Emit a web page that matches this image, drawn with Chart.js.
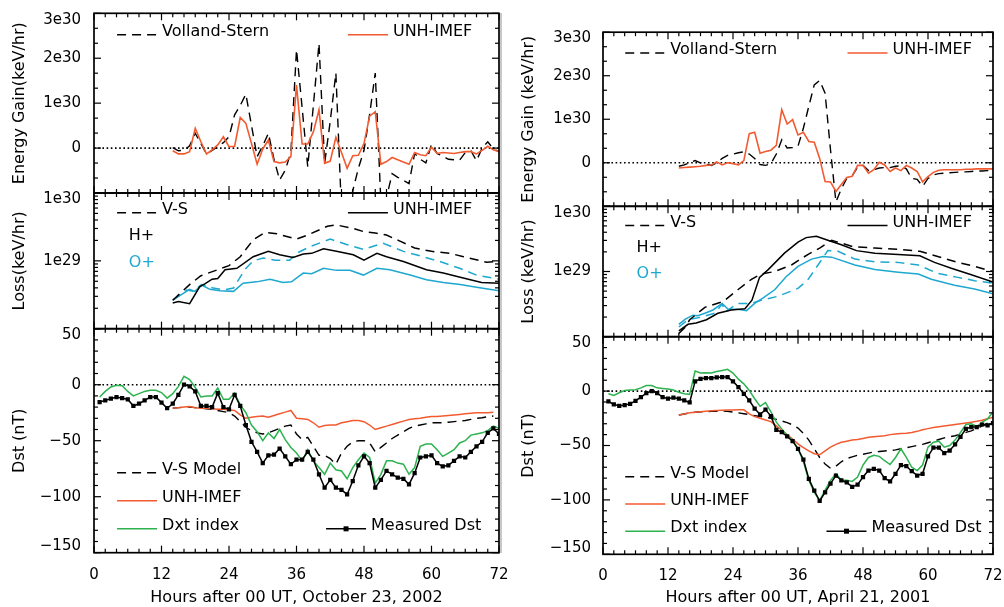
<!DOCTYPE html>
<html>
<head>
<meta charset="utf-8">
<script src="https://cdn.jsdelivr.net/npm/chart.js@4.4.1/dist/chart.umd.min.js"></script>
<style>
  html, body { margin: 0; padding: 0; background: #fff; width: 1004px; height: 607px; overflow: hidden; position: relative; }
  canvas { position: absolute; }
  #sep { position: absolute; left: 500px; top: 13px; width: 2px; height: 540px; background: #c8c8c8; }
</style>
</head>
<body>
<div id="sep"></div>
<script>
// ---------- Storm of 23-25 October 2002 (hours after 00 UT, Oct 23) ----------
// Energy gain, units of 1e30 keV/hr, hourly from hour 14
const octGainStart = 14;
const octGainVS = [0.01,-0.06,-0.05,0.05,0.33,0.10,-0.13,-0.05,0.03,0.12,
  0.25,0.74,0.95,1.20,0.50,-0.19,0.05,0.33,-0.25,-0.71,
  -0.49,-0.10,2.19,0.90,-0.42,0.95,2.33,-0.34,0.60,1.67,
  -1.40,-1.50,-0.95,-0.45,-0.05,0.75,1.67,-1.20,-1.10,-0.57,
  -0.65,-0.72,-0.79,-0.12,-0.25,-0.33,0.08,-0.12,-0.18,-0.25,
  -0.26,-0.27,-0.10,-0.06,-0.28,0.00,0.14,-0.02,-0.08];
const octGainUNH = [-0.06,-0.13,-0.13,-0.08,0.44,0.14,-0.13,-0.04,0.07,0.25,
  0.03,0.04,0.68,0.55,0.10,-0.36,-0.02,0.18,-0.30,-0.33,
  -0.31,-0.19,1.40,0.09,0.09,0.36,0.85,-0.34,-0.29,0.24,
  -0.10,-0.45,-0.17,-0.16,0.10,0.71,0.81,-0.36,-0.30,-0.21,
  -0.26,-0.31,-0.36,-0.10,-0.15,-0.17,0.02,-0.12,-0.10,-0.11,
  -0.12,-0.10,-0.08,-0.08,-0.13,-0.05,0.04,-0.04,-0.08];

// Ring current loss (keV/hr)
const octLossHvsT = [14,17,19,22,24,26,28.3,30.4,32.5,36,38,41.5,43,46,48,50,52,54.4,57,60,63.3,65.7,69.8,72];
const octLossHvs  = [2.63e28,4.47e28,6.03e28,7.41e28,8.51e28,1.15e29,2.04e29,2.63e29,2.51e29,2.09e29,2.40e29,3.24e29,
  3.39e29,3.02e29,2.69e29,2.57e29,2.40e29,1.95e29,1.55e29,1.38e29,1.29e29,1.15e29,9.55e28,9.77e28];
const octLossHunhT = [14,15,17,18.8,19.7,21,22,23.3,25.4,28.3,31,33,35.4,37.2,38.7,40.8,43.1,46.1,48,50.3,52,55,59.1,62.1,65.1,68.9,72];
const octLossHunh  = [2.40e28,2.51e28,2.34e28,4.17e28,4.57e28,5.37e28,5.50e28,7.41e28,7.76e28,1.15e29,1.38e29,1.23e29,
  1.12e29,1.26e29,1.29e29,1.51e29,1.38e29,1.23e29,1.02e29,1.29e29,1.15e29,9.77e28,7.41e28,6.61e28,5.75e28,4.79e28,4.68e28];
const octLossOvsT = [14,16.5,17.7,19.1,21.2,23,24.8,26.8,28.3,30.1,32.2,34.8,36,38.4,42,44.9,47.9,51.4,55,58.5,61.5,65,68,72];
const octLossOvs  = [2.63e28,3.72e28,3.55e28,4.47e28,3.98e28,3.72e28,3.98e28,7.41e28,1.00e29,1.10e29,1.02e29,1.02e29,
  1.29e29,1.62e29,2.09e29,1.74e29,1.48e29,1.82e29,1.38e29,1.15e29,9.77e28,7.76e28,6.17e28,5.37e28];
const octLossOunhT = [14,17,17.9,19.2,20.6,22.4,24.8,26.5,28.9,31.3,33.6,35.1,37.2,38.7,40.8,43.1,45.5,47.9,50.3,52.6,56.2,59.1,62.1,65.1,68,72];
const octLossOunh  = [2.63e28,3.80e28,3.55e28,4.37e28,3.80e28,3.63e28,3.55e28,4.68e28,4.90e28,5.37e28,4.79e28,4.90e28,
  6.61e28,6.46e28,7.76e28,7.24e28,7.24e28,6.17e28,7.76e28,7.41e28,6.17e28,5.25e28,4.79e28,4.47e28,4.07e28,3.63e28];

// Dst (nT): measured and Dxt hourly from hour 1, models hourly from hour 14
const octDstStart = 1;
const octDstMeasured = [-15.5,-14,-12.5,-11,-12,-13,-19,-17,-14,-11,
  -11,-16,-21,-17,-9,0,-1.5,-6,-19,-19,
  -20,-7.5,-20,-22,-9,-19,-36,-51,-60,-70,
  -63,-62.5,-57,-64,-71,-67,-67,-60,-67,-80,
  -92,-85,-92,-94,-98,-86,-72,-64,-70,-92,
  -85,-77,-80,-83,-84,-89,-79,-65,-64,-63,
  -70,-73,-72,-68,-64,-65,-60,-55,-51,-43,
  -39,-44];
const octDxt = [-11,-6,-2,-0.5,-1,-6,-10,-8,-6,-5,
  -5,-7,-12,-8,-1.5,7.5,4.5,-2.5,-11,-10,
  -10,-3,-13,-13,-7.5,-18,-25,-36,-42,-50,
  -43,-48,-40,-49,-56,-61,-68,-58,-68,-74,
  -80,-70,-76,-77,-84,-74,-67,-61,-65,-88,
  -80,-68,-68,-70,-71,-80,-74,-55,-53,-53,
  -58,-64,-61,-58,-52,-50,-45,-44,-43,-41,
  -37,-39];
const octModelStart = 14;
const octDstUNH = [-21,-20.5,-20,-19.5,-20.5,-21,-21,-21.5,-22,-22,
  -22.5,-23,-27,-30,-29,-28.5,-28,-29,-27.5,-26,
  -24.5,-23,-30,-30.5,-31,-34,-38,-36.5,-36,-36,
  -34,-33,-32,-32,-33,-36,-40,-38.5,-37,-35.5,
  -34,-32.5,-31,-30.5,-30,-29,-28.5,-28.5,-28,-27.5,
  -27,-26.5,-26,-25.5,-25,-25,-25,-24.5];
const octDstVS = [-21,-20.5,-20,-20,-20.5,-21,-21.5,-22,-23,-24,
  -25,-28,-33,-38,-41,-43,-44,-43,-41,-39,
  -37,-36,-44,-49,-47,-55,-63,-63,-66,-71,
  -61,-55,-51,-50,-50,-52,-60,-56,-52,-48,
  -45,-42,-39,-37,-36,-35,-34,-34,-34,-33.5,
  -33,-32.5,-32,-31,-30,-29.5,-28.5,-28];

// ---------- Storm of 21-23 April 2001 (hours after 00 UT, Apr 21) ----------
const aprGainStart = 14;
const aprGainVS = [-0.08,-0.05,0.00,0.05,0.00,-0.03,-0.06,0.00,0.10,0.17,
  0.20,0.23,0.25,0.20,0.10,-0.04,-0.06,-0.02,0.20,0.53,
  0.34,0.35,0.38,0.80,1.30,1.79,1.89,1.60,0.30,-0.90,
  -0.60,-0.36,-0.30,-0.10,-0.06,-0.18,-0.16,-0.12,-0.11,-0.11,
  -0.08,-0.07,-0.14,-0.36,-0.38,-0.54,-0.36,-0.28,-0.25,-0.24,
  -0.23,-0.22,-0.21,-0.21,-0.20,-0.19,-0.19,-0.18,-0.18];
const aprGainUNH = [-0.12,-0.11,-0.10,-0.09,-0.08,-0.06,-0.05,0.02,-0.05,0.00,
  -0.02,-0.05,0.05,0.67,0.70,0.22,0.26,0.29,0.40,1.22,
  0.89,0.99,0.64,0.70,0.49,0.47,0.10,-0.43,-0.44,-0.66,
  -0.50,-0.34,-0.31,-0.06,-0.06,-0.24,-0.16,0.01,-0.05,-0.20,
  -0.12,-0.18,-0.06,-0.12,-0.20,-0.44,-0.32,-0.22,-0.17,-0.16,
  -0.16,-0.16,-0.16,-0.15,-0.15,-0.14,-0.14,-0.14,-0.14];

const aprLossHvsT = [14,15.2,16,18.8,22.2,24.9,27.4,29.2,31.7,34.8,37.8,40,42.2,46.2,50.2,54.5,58.5,61.8,65.5,68.6,72];
const aprLossHvs  = [1.12e28,1.41e28,1.82e28,2.82e28,3.47e28,5.25e28,7.59e28,9.12e28,1.00e29,1.26e29,1.82e29,2.29e29,
  3.02e29,2.40e29,2.29e29,2.19e29,2.04e29,1.70e29,1.38e29,1.20e29,1.00e29];
const aprLossHunhT = [14,15.7,17.2,19.1,21.2,23.7,26.2,27.5,28.9,30.5,33.5,36,37.5,39.4,41.5,44,46.8,50.2,54.5,58.5,61.2,64.3,68,72];
const aprLossHunh  = [1.23e28,1.55e28,1.62e28,1.82e28,2.29e28,2.57e28,2.69e28,3.63e28,8.13e28,1.07e29,1.91e29,2.82e29,
  3.31e29,3.47e29,3.02e29,2.57e29,2.09e29,1.91e29,1.82e29,1.74e29,1.38e29,1.12e29,8.91e28,6.92e28];
const aprLossOvsT = [14,15.7,18.2,20.6,22,22.6,24.9,27.4,29.2,32.3,36,37.8,39.7,41.5,43.4,46.5,50.2,54.5,58.2,61.8,65.5,68.6,72];
const aprLossOvs  = [1.41e28,1.82e28,2.00e28,2.29e28,3.16e28,2.40e28,3.24e28,3.24e28,3.63e28,4.17e28,5.50e28,7.41e28,
  1.26e29,2.09e29,2.04e29,1.55e29,1.41e29,1.38e29,1.26e29,9.33e28,8.13e28,7.24e28,6.61e28];
const aprLossOunhT = [14,15.2,16.6,17.5,18.8,20.3,22,23.1,24.9,26.5,28,29.5,31.7,33.8,36,38.5,40.6,42.2,46.5,50.2,54.5,58.2,60.6,64.9,68.6,72];
const aprLossOunh  = [1.55e28,1.86e28,2.14e28,2.09e28,2.29e28,2.57e28,3.24e28,2.63e28,2.63e28,2.51e28,3.24e28,3.89e28,
  5.25e28,8.32e28,1.20e29,1.55e29,1.70e29,1.66e29,1.26e29,1.07e29,9.77e28,9.12e28,7.59e28,6.17e28,5.37e28,4.57e28];

const aprDstStart = 1;
const aprDstMeasured = [-9.5,-12.3,-13.5,-12.9,-11.7,-9,-5.5,-1.8,0,-1.8,
  -5.5,-7,-6,-7,-8.6,-10.4,8.9,11.3,12,12,
  12.6,12.9,12.9,8.9,3.7,-2.5,-8.6,-16,-21.5,-17,
  -23,-35.6,-37.7,-41.7,-46,-53,-63,-80.7,-91.4,-101,
  -93,-85,-77.6,-82,-84,-88,-86,-79,-73,-71.5,
  -73,-80,-83,-76,-68,-69,-73.6,-77.6,-76,-60,
  -52,-52,-57,-54.6,-49,-42,-34.7,-33,-33,-30.7,
  -31.6,-29.4];
const aprDxt = [-2.5,-4,-1.5,0.6,1,1.2,3,5.2,5.2,3,
  2.5,2,1,-1,-2.5,-3,18.4,16.6,16.8,16.6,
  18,19,20,16.6,11,6.7,0.6,-7,-14,-10.5,
  -19,-28.5,-34.7,-40.8,-45,-53,-65,-82,-93,-100.6,
  -91,-82,-76,-81.6,-82,-83,-79,-68,-61,-59,
  -60,-64,-67.5,-61,-53,-61,-70,-73,-68,-51.5,
  -47,-46,-51.5,-50,-45,-38,-30.7,-30,-32.5,-28.5,
  -25.5,-19.3];
const aprModelStart = 14;
const aprDstUNH = [-22,-21,-20,-19.5,-19,-18.5,-18,-17.8,-17.6,-17.4,
  -17.3,-17.2,-17.2,-21,-23.5,-25,-26.5,-28,-32,-36,
  -40,-44,-48.5,-52,-55,-57.5,-58.5,-55,-51.5,-49,
  -47,-46,-45,-44.5,-43.5,-42.5,-42,-41.5,-41,-40,
  -39.5,-39,-38.7,-38,-37,-35.5,-34.5,-33.5,-32.8,-32,
  -31.3,-30.6,-30,-29.3,-28.6,-27.8,-26.8,-25.5,-24];
const aprDstVS = [-22,-21,-20,-19.5,-19,-18.8,-18.6,-18.5,-18.4,-18.6,
  -19.2,-20,-20.8,-21.6,-22.5,-23.3,-24,-25,-26,-27.5,
  -29,-31,-34,-39,-45,-53,-61,-67,-71,-69,
  -65,-62,-60.5,-59,-58,-57,-56,-55.5,-55,-54.6,
  -54,-53,-52,-51,-50,-49,-47.5,-46,-44.5,-43,
  -42,-41,-39.5,-38,-36.5,-34.5,-32,-29.5,-27];

// Axis texts
const xTitles = { oct: 'Hours after 00 UT, October 23, 2002', apr: 'Hours after 00 UT, April 21, 2001' };
const yTitles = {
  oct: ['Energy Gain(keV/hr)', 'Loss(keV/hr)', 'Dst (nT)'],
  apr: ['Energy Gain (keV/hr)', 'Loss (keV/hr)', 'Dst (nT)']
};
const GAIN_UNIT = 1e30;

// ---------- styles ----------
const ORANGE = '#f25a30';
const CYAN = '#1ea8d0';
const GREEN = '#2cb24f';
const BLACK = '#000000';
const DASH = [9, 6];
const FONT = '"DejaVu Sans", "Liberation Sans", sans-serif';
const TEXT_SIZE = 16;

Chart.defaults.font.family = FONT;
Chart.defaults.font.size = 15;
Chart.defaults.color = '#000';

const hourly = (start, vals, unit = 1) => vals.map((v, i) => ({ x: start + i, y: v * unit }));
const paired = (ts, vals) => ts.map((t, i) => ({ x: t, y: vals[i] }));
const zeroLine = () => ({ data: [{ x: 0, y: 0 }, { x: 72, y: 0 }], borderColor: BLACK, borderWidth: 1.6, borderDash: [1.6, 2.6], pointRadius: 0 });
const ln = (data, color, dashed, width = 1.5) => ({ data, borderColor: color, borderWidth: width, borderDash: dashed ? DASH : [], pointRadius: 0, fill: false });
const minus = s => s.replace('-', '\u2212');

// Labels at the frame edges sit inside the frame: pad them with an empty line
const edgeLabel = (text, atTop) => atTop ? ['', text] : [text, ''];

// Minor/major tick values drawn inside each frame
function yTickMarks(kind) {
  const out = [];
  if (kind === 'gain') {
    for (let k = -3; k <= 9; k++) out.push({ v: k * GAIN_UNIT / 3, major: k % 3 === 0 });
  } else if (kind === 'loss') {
    for (const e of [28, 29]) for (let m = 1; m <= 9; m++) out.push({ v: m * Math.pow(10, e), major: m === 1 });
    out.push({ v: 1e30, major: true });
  } else {
    for (let v = -150; v <= 50; v += 10) out.push({ v, major: v % 50 === 0 });
  }
  return out;
}

const decoConfig = {};

const panelDeco = {
  id: 'panelDeco',
  afterDraw(chart) {
    const cfg = decoConfig[chart.canvas.id];
    if (!cfg) return;
    const { ctx, chartArea: a } = chart;
    const xs = chart.scales.x, ys = chart.scales.y;
    const seg = (x1, y1, x2, y2) => { ctx.beginPath(); ctx.moveTo(x1, y1); ctx.lineTo(x2, y2); ctx.stroke(); };
    ctx.save();
    ctx.strokeStyle = BLACK;
    ctx.lineWidth = 1.2;
    ctx.setLineDash([]);
    for (let h = 0; h <= 72; h += 2) {
      const px = xs.getPixelForValue(h);
      const len = h % 12 === 0 ? 7 : 4;
      seg(px, a.top, px, a.top + len);
      seg(px, a.bottom, px, a.bottom - len);
    }
    for (const t of yTickMarks(cfg.kind)) {
      const py = ys.getPixelForValue(t.v);
      const len = t.major ? 7 : 4;
      seg(a.left, py, a.left + len, py);
      seg(a.right, py, a.right - len, py);
    }
    ctx.lineWidth = 1.7;
    ctx.strokeRect(a.left, a.top, a.right - a.left, a.bottom - a.top);

    // legend entries
    ctx.font = TEXT_SIZE + 'px ' + FONT;
    ctx.textBaseline = 'middle';
    ctx.textAlign = 'left';
    for (const it of cfg.legend) {
      const x0 = a.left + it.fx * (a.right - a.left);
      const y0 = a.top + it.fy * (a.bottom - a.top);
      if (it.sample) {
        const s = it.sample;
        ctx.save();
        ctx.strokeStyle = s.color;
        ctx.lineWidth = 1.5;
        ctx.setLineDash(s.dashed ? DASH : []);
        seg(x0, y0 + 3, x0 + 40, y0 + 3);
        if (s.marker) { ctx.fillStyle = s.color; ctx.fillRect(x0 + 17.5, y0 + 0.5, 5, 5); }
        ctx.restore();
        ctx.fillStyle = BLACK;
        ctx.fillText(it.text, x0 + 45, y0);
      } else {
        ctx.fillStyle = it.color || BLACK;
        ctx.fillText(it.text, x0, y0);
      }
    }
    ctx.restore();
  }
};
Chart.register(panelDeco);

// Column geometry (page pixels)
const COLS = {
  oct: { left: 0, width: 510, axisW: 94, padRight: 11, titlePad: 10.4, tickPad: 13,
         panels: [[13.3, 193], [193, 328.7], [328.7, 552.7]] },
  apr: { left: 500, width: 504, axisW: 103, padRight: 11, titlePad: 18.9, tickPad: 12,
         panels: [[32.2, 206.3], [206.3, 336.7], [336.7, 554.3]] }
};

// Drop near-duplicate ticks produced by floating-point decade steps
function dedupeTicks(scale) {
  scale.ticks = scale.ticks.filter((t, i, arr) => i === 0 || Math.abs(t.value - arr[i - 1].value) > Math.abs(t.value) * 1e-9);
}

function yScaleFor(kind) {
  const common = {
    grid: { display: false, drawTicks: false },
    border: { display: false },
  };
  const font = { size: 15, lineHeight: 0.85 };
  if (kind === 'gain') {
    return Object.assign(common, { type: 'linear', min: -1 * GAIN_UNIT, max: 3 * GAIN_UNIT,
      ticks: { stepSize: GAIN_UNIT, autoSkip: false, font,
        callback: v => {
          const k = Math.round(v / GAIN_UNIT);
          if (k < 0) return '';
          if (k === 3) return edgeLabel('3e30', true);
          return k === 0 ? '0' : k + 'e30';
        } } });
  }
  if (kind === 'loss') {
    return Object.assign(common, { type: 'logarithmic', min: 1e28, max: 1e30,
      afterBuildTicks: dedupeTicks,
      ticks: { autoSkip: false, font,
        callback: (v, i, ticks) => {
          const e = Math.log10(v), r = Math.round(e);
          if (Math.abs(e - r) > 1e-6 || r <= 28) return '';
          if (i > 0 && Math.round(Math.log10(ticks[i - 1].value)) === r && Math.abs(Math.log10(ticks[i - 1].value) - r) < 1e-6) return '';
          return r === 30 ? edgeLabel('1e30', true) : '1e' + r;
        } } });
  }
  return Object.assign(common, { type: 'linear', min: -150, max: 50,
    ticks: { stepSize: 50, autoSkip: false, font,
      callback: v => {
        const s = minus(String(v));
        if (v === 50) return edgeLabel(s, true);
        if (v === -150) return edgeLabel(s, false);
        return s;
      } } });
}

function buildPanel(colKey, idx, kind, datasets, legend) {
  const col = COLS[colKey];
  const [top, bottom] = col.panels[idx];
  const isDst = kind === 'dst';
  const cTop = Math.floor(top) - 16;
  const cH = isDst ? 607 - cTop : Math.ceil(bottom) + 10 - cTop;
  const id = colKey + '-' + kind;
  const canvas = document.createElement('canvas');
  canvas.id = id;
  canvas.width = col.width;
  canvas.height = cH;
  canvas.style.left = col.left + 'px';
  canvas.style.top = cTop + 'px';
  canvas.style.width = col.width + 'px';
  canvas.style.height = cH + 'px';
  document.body.appendChild(canvas);
  decoConfig[id] = { kind, legend };

  const y = yScaleFor(kind);
  y.ticks.padding = col.tickPad;
  y.title = { display: true, text: yTitles[colKey][idx], font: { size: TEXT_SIZE }, padding: { top: col.titlePad, bottom: 0 } };
  y.afterFit = s => { s.width = col.axisW; s.paddingTop = 0; s.paddingBottom = 0; };

  const x = {
    type: 'linear', min: 0, max: 72, display: isDst,
    grid: { display: false, drawTicks: false },
    border: { display: false },
    ticks: { stepSize: 12, padding: 13, maxRotation: 0, autoSkip: false },
    title: { display: isDst, text: xTitles[colKey], font: { size: TEXT_SIZE }, padding: { top: 0, bottom: 0 } }
  };
  if (isDst) x.afterFit = s => { s.height = 607 - bottom; s.paddingLeft = 0; s.paddingRight = 0; };

  new Chart(canvas, {
    type: 'line',
    data: { datasets },
    options: {
      responsive: false,
      animation: false,
      devicePixelRatio: 1,
      events: [],
      layout: { autoPadding: false, padding: { left: 0, right: col.padRight, top: top - cTop, bottom: isDst ? 0 : cTop + cH - bottom } },
      plugins: { legend: { display: false }, tooltip: { enabled: false } },
      elements: { line: { tension: 0 }, point: { radius: 0 } },
      scales: { x, y }
    }
  });
}

const gainLegend = [
  { fx: 0.057, fy: 0.102, text: 'Volland-Stern', sample: { color: BLACK, dashed: true } },
  { fx: 0.627, fy: 0.102, text: 'UNH-IMEF', sample: { color: ORANGE } }
];
const lossLegend = [
  { fx: 0.057, fy: 0.124, text: 'V-S', sample: { color: BLACK, dashed: true } },
  { fx: 0.627, fy: 0.124, text: 'UNH-IMEF', sample: { color: BLACK } },
  { fx: 0.086, fy: 0.315, text: 'H+', color: BLACK },
  { fx: 0.086, fy: 0.515, text: 'O+', color: CYAN }
];
const dstLegend = [
  { fx: 0.057, fy: 0.630, text: 'V-S Model', sample: { color: BLACK, dashed: true } },
  { fx: 0.057, fy: 0.755, text: 'UNH-IMEF', sample: { color: ORANGE } },
  { fx: 0.057, fy: 0.880, text: 'Dxt index', sample: { color: GREEN } },
  { fx: 0.573, fy: 0.880, text: 'Measured Dst', sample: { color: BLACK, marker: true } }
];

function measured(data) {
  return { data, borderColor: BLACK, borderWidth: 1.5, pointStyle: 'rect', pointRadius: 3,
           pointBackgroundColor: BLACK, pointBorderColor: BLACK, pointBorderWidth: 0 };
}

// October 2002 column
buildPanel('oct', 0, 'gain', [
  ln(hourly(octGainStart, octGainUNH, GAIN_UNIT), ORANGE, false, 1.6),
  ln(hourly(octGainStart, octGainVS, GAIN_UNIT), BLACK, true, 1.4),
  zeroLine()
], gainLegend);
buildPanel('oct', 1, 'loss', [
  ln(paired(octLossHunhT, octLossHunh), BLACK, false),
  ln(paired(octLossHvsT, octLossHvs), BLACK, true),
  ln(paired(octLossOunhT, octLossOunh), CYAN, false),
  ln(paired(octLossOvsT, octLossOvs), CYAN, true)
], lossLegend);
buildPanel('oct', 2, 'dst', [
  measured(hourly(octDstStart, octDstMeasured)),
  ln(hourly(octDstStart, octDxt), GREEN, false),
  ln(hourly(octModelStart, octDstUNH), ORANGE, false),
  ln(hourly(octModelStart, octDstVS), BLACK, true, 1.4),
  zeroLine()
], dstLegend);

// April 2001 column
buildPanel('apr', 0, 'gain', [
  ln(hourly(aprGainStart, aprGainUNH, GAIN_UNIT), ORANGE, false, 1.6),
  ln(hourly(aprGainStart, aprGainVS, GAIN_UNIT), BLACK, true, 1.4),
  zeroLine()
], gainLegend);
buildPanel('apr', 1, 'loss', [
  ln(paired(aprLossHunhT, aprLossHunh), BLACK, false),
  ln(paired(aprLossHvsT, aprLossHvs), BLACK, true),
  ln(paired(aprLossOunhT, aprLossOunh), CYAN, false),
  ln(paired(aprLossOvsT, aprLossOvs), CYAN, true)
], lossLegend);
buildPanel('apr', 2, 'dst', [
  measured(hourly(aprDstStart, aprDstMeasured)),
  ln(hourly(aprDstStart, aprDxt), GREEN, false),
  ln(hourly(aprModelStart, aprDstUNH), ORANGE, false),
  ln(hourly(aprModelStart, aprDstVS), BLACK, true, 1.4),
  zeroLine()
], dstLegend);
</script>
</body>
</html>
